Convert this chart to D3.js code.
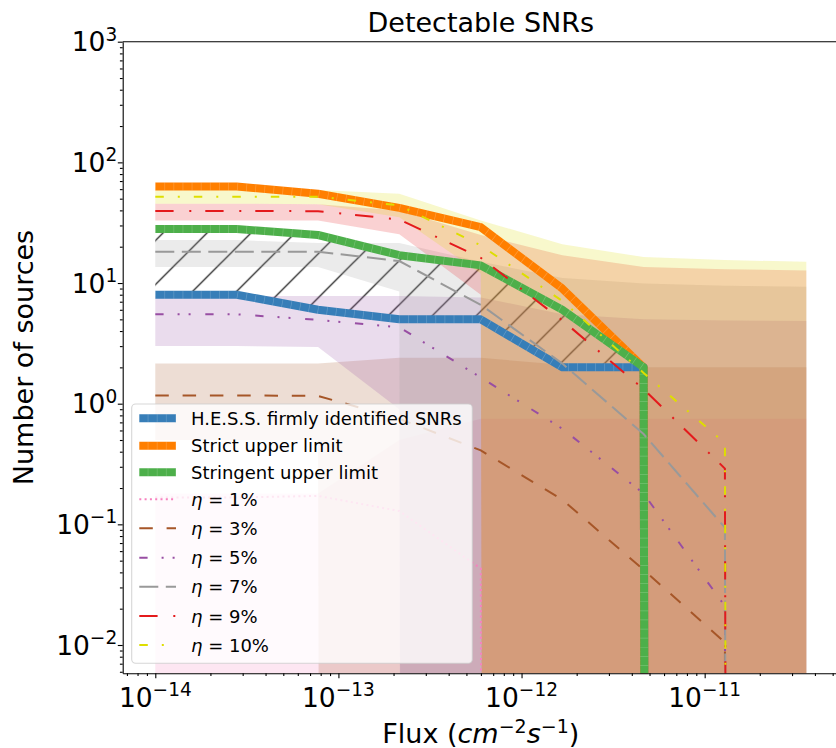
<!DOCTYPE html>
<html>
<head>
<meta charset="utf-8">
<script src="https://cdn.jsdelivr.net/npm/d3@7"></script>
<style>
body { margin: 0; background: #fff; }
text { font-family: "DejaVu Sans", sans-serif; fill: #000; }
</style>
</head>
<body>
<svg id="chart" width="836" height="748"></svg>
<script>
// flux thresholds (cm^-2 s^-1)
const fluxes = [1.0e-14, 2.78e-14, 7.74e-14, 2.15e-13, 5.99e-13, 1.67e-12, 4.64e-12, 1.29e-11, 3.59e-11];

// observed / limit curves
const hess      = [8, 8, 6, 5, 5, 2, 2, 0, 0];
const strict    = [63, 63, 55, 42, 29, 9, 2, 0, 0];
const stringent = [28, 28, 25, 17, 14, 6, 2, 0, 0];

// model curves: median, lower and upper edge of the band
const med1  = [0.167, 0.167, 0.172, 0.129, 0.043, 0, 0, 0, 0];
const lo1   = [0, 0, 0, 0, 0, 0, 0, 0, 0];
const hi1   = [0.18, 0.18, 0.18, 0.5, 0.75, 0.75, 0.75, 0.75, 0.75];
const med3  = [1.17, 1.17, 1.16, 0.75, 0.41, 0.16, 0.042, 0.0105, 0];
const lo3   = [0.5, 0.5, 0.5, 0, 0, 0, 0, 0, 0];
const hi3   = [2.15, 2.15, 2.15, 2.4, 2.4, 2.1, 2.0, 2.0, 2.0];
const med5  = [5.5, 5.5, 4.95, 4.3, 1.65, 0.62, 0.18, 0.021, 0];
const lo5   = [3.0, 3.0, 2.95, 0.9, 0, 0, 0, 0, 0];
const hi5   = [7.8, 7.8, 7.8, 7.8, 7.6, 5.5, 5.0, 4.9, 4.85];
const med7  = [18.2, 18.2, 18.2, 15.2, 6.6, 2.15, 0.56, 0.094, 0];
const lo7   = [13.6, 13.6, 13.6, 8.5, 0, 0, 0, 0, 0];
const hi7   = [22.7, 22.7, 21.5, 21.5, 15, 11, 9.9, 9.5, 9.3];
const med9  = [39.6, 39.6, 39.4, 33.6, 16.2, 4.9, 1.32, 0.29, 0];
const lo9   = [33, 33, 33, 25.4, 8.0, 0, 0, 0, 0];
const hi9   = [45.5, 45.5, 45, 40, 25, 17, 13.6, 13.0, 12.7];
const med10 = [52, 52, 52, 44, 20.5, 7.1, 1.8, 0.47, 0];
const lo10  = [45.5, 45.5, 45, 35, 12, 0, 0, 0, 0];
const hi10  = [62, 62, 59, 55, 33, 21, 16.4, 15.5, 15.0];

const etaLabels = ["1%", "3%", "5%", "7%", "9%", "10%"];
const xMajor = [1e-14, 1e-13, 1e-12, 1e-11];
const yMajor = [1e-2, 1e-1, 1, 10, 100, 1000];

const margin = {left: 122.7, top: 41.7};
const W = 716.2, H = 631.6;

const svg = d3.select("#chart");
const g = svg.append("g").attr("transform", `translate(${margin.left},${margin.top})`);

const x = d3.scaleLog().domain([Math.pow(10, -14.178), Math.pow(10, -10.267)]).range([0, W]);
const y = d3.scaleLog().domain([Math.pow(10, -2.2345), 1000]).range([H, 0]);
const yv = v => y(v > 0 ? v : 1e-300);   // zeros fall far below the axis, like matplotlib
const idx = d3.range(fluxes.length);

const defs = svg.append("defs");
defs.append("clipPath").attr("id", "plotclip")
  .append("rect").attr("width", W).attr("height", H);

// hatch: "/" lines
const pat = defs.append("pattern").attr("id", "hatch")
  .attr("patternUnits", "userSpaceOnUse")
  .attr("x", 11.6).attr("y", 0).attr("width", 44).attr("height", 44);
pat.append("path").attr("d", "M0,44 L44,0 M-4,4 L4,-4 M40,48 L48,40")
  .attr("stroke", "#000").attr("stroke-width", 1.2);

const plot = g.append("g").attr("clip-path", "url(#plotclip)");

// hatched region between H.E.S.S. and stringent limit
const hatchIdx = idx.filter(i => hess[i] > 0 && stringent[i] > 0);
plot.append("path")
  .attr("d", d3.area().x(i => x(fluxes[i])).y0(i => y(hess[i])).y1(i => y(stringent[i]))(hatchIdx))
  .attr("fill", "url(#hatch)");

const etas = [
  {med: med1,  lo: lo1,  hi: hi1,  color: "#f781bf", dash: "2,3.3"},
  {med: med3,  lo: lo3,  hi: hi3,  color: "#a65628", dash: "13.5,13.8"},
  {med: med5,  lo: lo5,  hi: hi5,  color: "#984ea3", dash: "8.3,14,2,9,2,14.7"},
  {med: med7,  lo: lo7,  hi: hi7,  color: "#999999", dash: "19,7.5"},
  {med: med9,  lo: lo9,  hi: hi9,  color: "#e41a1c", dash: "18.3,15.7,2,14"},
  {med: med10, lo: lo10, hi: hi10, color: "#dede00", dash: "8.5,14,2,14"}
];

// bands
etas.forEach(e => {
  plot.append("path")
    .attr("d", d3.area().x(i => x(fluxes[i])).y0(i => yv(e.lo[i])).y1(i => yv(e.hi[i]))(idx))
    .attr("fill", e.color).attr("fill-opacity", 0.2);
});

const line = arr => d3.line().x(i => x(fluxes[i])).y(i => yv(arr[i]))(idx);

const thick = [
  {vals: hess, color: "#377eb8", label: "H.E.S.S. firmly identified SNRs"},
  {vals: strict, color: "#ff7f00", label: "Strict upper limit"},
  {vals: stringent, color: "#4daf4a", label: "Stringent upper limit"}
];

thick.forEach(t => {
  plot.append("path").attr("d", line(t.vals))
    .attr("fill", "none").attr("stroke", t.color).attr("stroke-width", 8)
    .attr("stroke-linejoin", "round");
  plot.append("path").attr("d", line(t.vals))
    .attr("fill", "none").attr("stroke", "#fff").attr("stroke-opacity", 0.22)
    .attr("stroke-width", 8).attr("stroke-dasharray", "0.7,8.4");
});

etas.forEach(e => {
  plot.append("path").attr("d", line(e.med))
    .attr("fill", "none").attr("stroke", e.color).attr("stroke-width", 2)
    .attr("stroke-dasharray", e.dash);
});

// axes
function powLabel(sel, exp, size) {
  sel.append("tspan").text("10");
  sel.append("tspan").attr("font-size", size * 0.7).attr("dy", -0.4 * size)
    .text(exp < 0 ? "\u2212" + (-exp) : String(exp));
}

const xMinor = [];
for (let e = -15; e <= -11; e++) for (let m = 2; m <= 9; m++) {
  const v = m * Math.pow(10, e);
  if (v > x.domain()[0] && v < x.domain()[1]) xMinor.push(v);
}
const yMinor = [];
for (let e = -3; e <= 2; e++) for (let m = 2; m <= 9; m++) {
  const v = m * Math.pow(10, e);
  if (v > y.domain()[0] && v < y.domain()[1]) yMinor.push(v);
}

g.append("g").attr("transform", `translate(0,${H})`)
  .call(d3.axisBottom(x).tickValues(xMajor).tickSize(4.9).tickSizeOuter(0).tickFormat(""));
g.append("g").attr("transform", `translate(0,${H})`)
  .call(d3.axisBottom(x).tickValues(xMinor).tickSize(2.8).tickSizeOuter(0).tickFormat(""))
  .select(".domain").remove();
g.append("g")
  .call(d3.axisLeft(y).tickValues(yMajor).tickSize(4.9).tickSizeOuter(0).tickFormat(""));
g.append("g")
  .call(d3.axisLeft(y).tickValues(yMinor).tickSize(2.8).tickSizeOuter(0).tickFormat(""))
  .select(".domain").remove();
g.selectAll(".domain, .tick line").attr("stroke", "#000").attr("stroke-width", 1.1);

xMajor.forEach(v => {
  const t = g.append("text").attr("x", x(v)).attr("y", H + 33.4)
    .attr("text-anchor", "middle").attr("font-size", 26.5);
  powLabel(t, Math.round(Math.log10(v)), 26.5);
});
yMajor.forEach(v => {
  const t = g.append("text").attr("x", -5.5).attr("y", y(v) + 9.6)
    .attr("text-anchor", "end").attr("font-size", 26.5);
  powLabel(t, Math.round(Math.log10(v)), 26.5);
});

// top and right spines
g.append("line").attr("x1", 0).attr("x2", W).attr("y1", 0).attr("y2", 0)
  .attr("stroke", "#000").attr("stroke-width", 1.1);
g.append("line").attr("x1", W).attr("x2", W).attr("y1", 0).attr("y2", H)
  .attr("stroke", "#000").attr("stroke-width", 1.1);

// title and axis labels
svg.append("text").attr("x", margin.left + W / 2).attr("y", 32)
  .attr("text-anchor", "middle").attr("font-size", 27).text("Detectable SNRs");

svg.append("text").attr("transform", `translate(33,${margin.top + H / 2}) rotate(-90)`)
  .attr("text-anchor", "middle").attr("font-size", 27).text("Number of sources");

const xl = svg.append("text").attr("x", margin.left + W / 2).attr("y", 743)
  .attr("text-anchor", "middle").attr("font-size", 27);
xl.append("tspan").text("Flux (");
xl.append("tspan").attr("font-style", "italic").text("cm");
xl.append("tspan").attr("font-size", 19).attr("dy", -10).text("\u22122");
xl.append("tspan").attr("font-style", "italic").attr("dy", 10).text("s");
xl.append("tspan").attr("font-size", 19).attr("dy", -10).text("\u22121");
xl.append("tspan").attr("dy", 10).text(")");

// legend
const leg = svg.append("g");
leg.append("rect").attr("x", 131.7).attr("y", 404).attr("width", 340.6).attr("height", 259.3)
  .attr("rx", 4).attr("fill", "#fff").attr("fill-opacity", 0.8)
  .attr("stroke", "#cccccc").attr("stroke-opacity", 0.8).attr("stroke-width", 1.1);

const rowY = [418.3, 445.7, 472.3, 499.3, 528.3, 557.7, 586.7, 616, 645];
thick.forEach((t, k) => {
  leg.append("line").attr("x1", 139.3).attr("x2", 176).attr("y1", rowY[k]).attr("y2", rowY[k])
    .attr("stroke", t.color).attr("stroke-width", 8);
  leg.append("line").attr("x1", 139.3).attr("x2", 176).attr("y1", rowY[k]).attr("y2", rowY[k])
    .attr("stroke", "#fff").attr("stroke-opacity", 0.22).attr("stroke-width", 8)
    .attr("stroke-dasharray", "0.7,8.4").attr("stroke-dashoffset", -8.4);
  leg.append("text").attr("x", 191).attr("y", rowY[k] + 6.5).attr("font-size", 18).text(t.label);
});
etas.forEach((e, k) => {
  const ry = rowY[k + 3];
  leg.append("line").attr("x1", 139.3).attr("x2", 176).attr("y1", ry).attr("y2", ry)
    .attr("stroke", e.color).attr("stroke-width", 2).attr("stroke-dasharray", e.dash);
  const t = leg.append("text").attr("x", 191).attr("y", ry + 6.5).attr("font-size", 18);
  t.append("tspan").attr("font-style", "italic").text("\u03b7");
  t.append("tspan").text(" = " + etaLabels[k]);
});
</script>
</body>
</html>
